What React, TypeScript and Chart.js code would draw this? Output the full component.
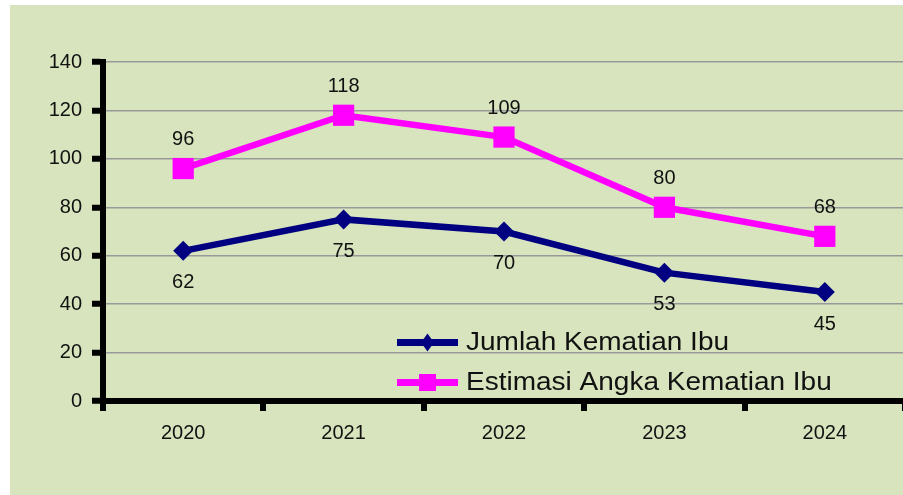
import React, { useEffect, useRef } from "react";
import { Chart, registerables } from "chart.js";

Chart.register(...registerables);

// ---- data ----
const years = ["2020", "2021", "2022", "2023", "2024"];
const jumlahKematianIbu = [62, 75, 70, 53, 45];
const estimasiAngkaKematianIbu = [96, 118, 109, 80, 68];
const seriesNames = ["Jumlah Kematian Ibu", "Estimasi Angka Kematian Ibu"];
const yMin = 0;
const yMax = 140;
const yStep = 20;

// ---- styles ----
const NAVY = "#000080";
const MAGENTA = "#ff00ff";
const GREEN_BG = "#d7e4bd";
const FONT = "'Liberation Sans', Arial, Helvetica, sans-serif";

const CANVAS_W = 920;
const CANVAS_H = 495;
const AREA_LEFT = 103;
const AREA_TOP = 62;
const AREA_RIGHT = 908;
const AREA_BOTTOM = 401;

const dataLabelPlugin = {
  id: "dataLabelPlugin",
  afterDatasetsDraw(chart: any) {
    const ctx = chart.ctx;
    ctx.save();
    ctx.font = `20px ${FONT}`;
    ctx.fillStyle = "#111111";
    ctx.textAlign = "center";
    ctx.textBaseline = "middle";
    chart.data.datasets.forEach((ds: any, i: number) => {
      const meta = chart.getDatasetMeta(i);
      meta.data.forEach((pt: any, j: number) => {
        const off = i === 0 ? 32 : -29;
        ctx.fillText(String(ds.data[j]), pt.x, pt.y + off);
      });
    });
    ctx.restore();
  },
};

const insideLegendPlugin = {
  id: "insideLegendPlugin",
  afterDraw(chart: any) {
    const ctx = chart.ctx;
    const rowY = [342.5, 382.5];
    const x0 = 397;
    const x1 = 458;
    const cx = (x0 + x1) / 2;
    chart.data.datasets.forEach((ds: any, i: number) => {
      const y = rowY[i];
      ctx.save();
      ctx.strokeStyle = ds.borderColor;
      ctx.lineWidth = 7;
      ctx.beginPath();
      ctx.moveTo(x0, y);
      ctx.lineTo(x1, y);
      ctx.stroke();
      ctx.fillStyle = ds.borderColor;
      if (ds.pointStyle === "rectRot") {
        ctx.beginPath();
        ctx.moveTo(cx, y - 9);
        ctx.lineTo(cx + 6.5, y);
        ctx.lineTo(cx, y + 9);
        ctx.lineTo(cx - 6.5, y);
        ctx.closePath();
        ctx.fill();
      } else {
        ctx.fillRect(cx - 8.5, y - 8.5, 17, 17);
      }
      ctx.translate(466, y + 1);
      ctx.scale(1.12, 1);
      ctx.font = `25px ${FONT}`;
      ctx.fillStyle = "#111111";
      ctx.textAlign = "left";
      ctx.textBaseline = "middle";
      ctx.fillText(ds.label, 0, 0);
      ctx.restore();
    });
  },
};

export default function App() {
  const ref = useRef<HTMLCanvasElement | null>(null);

  useEffect(() => {
    if (!ref.current) return;
    const chart = new Chart(ref.current, {
      type: "line",
      data: {
        labels: years,
        datasets: [
          {
            label: seriesNames[0],
            data: jumlahKematianIbu,
            borderColor: NAVY,
            backgroundColor: NAVY,
            borderWidth: 6.5,
            pointStyle: "rectRot",
            pointRadius: 10,
            pointBorderWidth: 0,
            pointBackgroundColor: NAVY,
            tension: 0,
          },
          {
            label: seriesNames[1],
            data: estimasiAngkaKematianIbu,
            borderColor: MAGENTA,
            backgroundColor: MAGENTA,
            borderWidth: 6.5,
            pointStyle: "rect",
            pointRadius: 15,
            pointBorderWidth: 0,
            pointBackgroundColor: MAGENTA,
            tension: 0,
          },
        ],
      },
      options: {
        animation: false,
        responsive: false,
        maintainAspectRatio: false,
        devicePixelRatio: 1,
        events: [],
        layout: {
          padding: { left: 0, top: AREA_TOP, right: CANVAS_W - AREA_RIGHT, bottom: 0 },
        },
        plugins: {
          legend: { display: false },
          tooltip: { enabled: false },
          title: { display: false },
        },
        scales: {
          x: {
            type: "category",
            offset: true,
            grid: {
              offset: true,
              drawOnChartArea: false,
              drawTicks: true,
              tickLength: 10,
              tickWidth: 6,
              tickColor: "#000000",
              color: "#000000",
              lineWidth: 6,
            },
            border: { display: true, width: 6, color: "#000000" },
            ticks: {
              font: { family: FONT, size: 20 },
              color: "#111111",
              padding: 10,
              maxRotation: 0,
              autoSkip: false,
            },
            afterFit: (scale: any) => {
              scale.height = CANVAS_H - AREA_BOTTOM;
            },
          },
          y: {
            min: yMin,
            max: yMax,
            grid: {
              color: (c: any) =>
                c.tick && c.tick.value === yMin ? "rgba(0,0,0,0)" : "#999999",
              lineWidth: 1.5,
              drawTicks: true,
              tickLength: 11,
              tickWidth: 6,
              tickColor: "#000000",
            },
            border: { display: true, width: 6, color: "#000000" },
            ticks: {
              stepSize: yStep,
              font: { family: FONT, size: 20 },
              color: "#111111",
              padding: 10,
            },
            afterFit: (scale: any) => {
              scale.width = AREA_LEFT;
            },
          },
        },
      },
      plugins: [dataLabelPlugin, insideLegendPlugin],
    } as any);
    return () => chart.destroy();
  }, []);

  return (
    <div
      style={{
        position: "fixed",
        left: 0,
        top: 0,
        width: 903,
        height: 495,
        overflow: "hidden",
        background: "#ffffff",
      }}
    >
      <div
        style={{
          position: "absolute",
          left: 10,
          top: 5,
          right: 0,
          bottom: 0,
          background: GREEN_BG,
        }}
      />
      <canvas
        ref={ref}
        width={CANVAS_W}
        height={CANVAS_H}
        style={{
          position: "absolute",
          left: 0,
          top: 0,
          width: CANVAS_W,
          height: CANVAS_H,
        }}
      />
    </div>
  );
}
